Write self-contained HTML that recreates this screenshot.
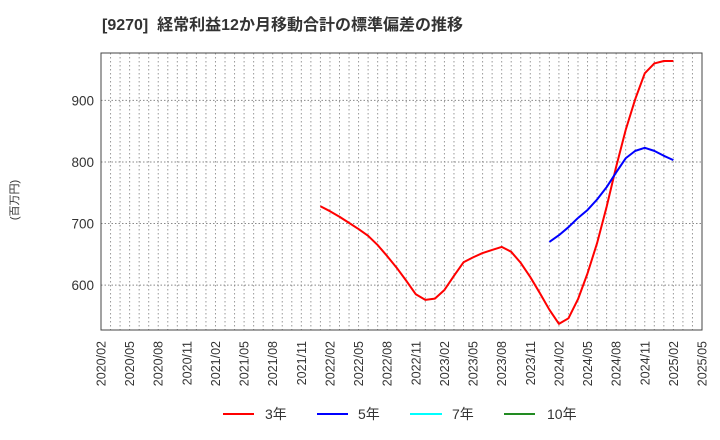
<!DOCTYPE html>
<html><head><meta charset="utf-8"><style>
body{margin:0;background:#fff}
svg{display:block;font-family:"Liberation Sans","Noto Sans CJK JP",sans-serif}
</style></head><body>
<svg id="c" width="720" height="440">
<text x="102" y="30" font-size="16" font-weight="bold" fill="#333">[9270]&#160; 経常利益12か月移動合計の標準偏差の推移</text>
<text transform="translate(18,200) rotate(-90)" font-size="11" fill="#333" text-anchor="middle">(百万円)</text>
<g id="grid"></g><g id="axes"></g><g id="series"></g>
<g>
<line x1="223" y1="414" x2="254" y2="414" stroke="#f00" stroke-width="2"/><text x="265" y="419" font-size="14" fill="#333">3年</text>
<line x1="317" y1="414" x2="348" y2="414" stroke="#00f" stroke-width="2"/><text x="358" y="419" font-size="14" fill="#333">5年</text>
<line x1="410" y1="414" x2="442" y2="414" stroke="#0ff" stroke-width="2"/><text x="452" y="419" font-size="14" fill="#333">7年</text>
<line x1="504" y1="414" x2="535" y2="414" stroke="#228b22" stroke-width="2"/><text x="547" y="419" font-size="14" fill="#333">10年</text>
</g>
</svg>
<script>
const yTicks=[600,700,800,900];
const red3Start=23; // months since 2020/02 (2022/01)
const red3=[728,720,711,701,691,680,665,647,628,607,585,576,578,592,615,637,645,652,657,662,654,636,613,587,560,537,546,577,619,668,727,792,852,902,944,960,964,964];
const blue5Start=47; // 2024/01
const blue5=[670,681,694,709,722,739,759,783,806,818,823,818,810,803];
const L=101,R=702,T=53,B=330,NM=63,Y0=527,Y1=977;
const xs=m=>L+m*(R-L)/NM, ys=v=>B-(v-Y0)*(B-T)/(Y1-Y0);
const NS="http://www.w3.org/2000/svg";
function mk(t,a,p){const e=document.createElementNS(NS,t);for(const k in a)e.setAttribute(k,a[k]);p.appendChild(e);return e;}
const g=document.getElementById('grid'),ax=document.getElementById('axes'),s=document.getElementById('series');
for(let m=1;m<NM;m++){const l=mk('line',{x1:xs(m),x2:xs(m),y1:T,y2:B,stroke:'#999','stroke-dasharray':'1.5,2.5','stroke-width':1},g);

}
yTicks.forEach(v=>{const l=mk('line',{x1:L,x2:R,y1:ys(v),y2:ys(v),stroke:'#888','stroke-dasharray':'1.5,2','stroke-width':1},g);


const t=mk('text',{x:L-7,y:ys(v)+5,'font-size':13.5,fill:'#333','text-anchor':'end'},ax);t.textContent=v;

});
const fr=mk('rect',{x:L,y:T,width:R-L,height:B-T,fill:'none',stroke:'#444','stroke-width':1},ax);


for(let m=0;m<=NM;m+=3){const yr=2020+Math.floor((1+m)/12),mo=(1+m)%12+1;
const t=mk('text',{transform:`translate(${xs(m)+4.5},341) rotate(-90)`,'font-size':12.5,fill:'#333','text-anchor':'end'},ax);
t.textContent=yr+'/'+String(mo).padStart(2,'0');

}
function line(d,st,c,n){const p=mk('polyline',{points:d.map((v,i)=>xs(st+i)+','+ys(v)).join(' '),fill:'none',stroke:c,'stroke-width':2,'stroke-linejoin':'round'},s);

}
line(red3,red3Start,'#f00','series-3y');
line(blue5,blue5Start,'#00f','series-5y');
</script>
</body></html>
